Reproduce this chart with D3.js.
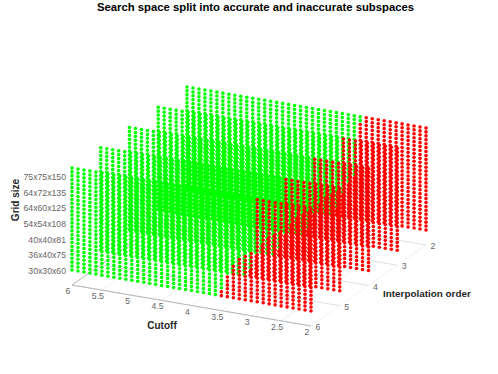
<!DOCTYPE html>
<html>
<head>
<meta charset="utf-8">
<script src="https://cdn.jsdelivr.net/npm/d3@7"></script>
<style>
  html, body { margin: 0; padding: 0; background: #fff; }
  text { font-family: "Liberation Sans", Arial, sans-serif; }
</style>
</head>
<body>
<div id="chart"></div>
<script>
let width = 498;
let height = 374;

let cutoffs = [6, 5.9, 5.8, 5.7, 5.6, 5.5, 5.4, 5.3, 5.2, 5.1,
               5, 4.9, 4.8, 4.7, 4.6, 4.5, 4.4, 4.3, 4.2, 4.1,
               4, 3.9, 3.8, 3.7, 3.6, 3.5, 3.4, 3.3, 3.2, 3.1,
               3, 2.9, 2.8, 2.7, 2.6, 2.5, 2.4, 2.3, 2.2, 2.1, 2];
let orders = [2, 3, 4, 5, 6];
let rows = [0, 1, 2, 3, 4, 5, 6, 7, 8, 9, 10, 11, 12, 13, 14, 15, 16, 17, 18, 19, 20, 21, 22, 23, 24, 25, 26];

let cutoffTicks = [6, 5.5, 5, 4.5, 4, 3.5, 3, 2.5, 2];
let gridTicks = [0, 4, 8, 12, 16, 20, 24];
let gridLabels = ["30x30x60", "36x40x75", "40x40x81", "54x54x108", "64x60x125", "64x72x135", "75x75x150"];

// how many rows, counted from the bottom, are inaccurate (red) in each cutoff column
let redRows2 = [0,0,0,0,0,0,0,0,0,0,0,0,0,0,0,0,0,0,0,0,0,0,0,0,0,2,6,9,11,25,27,27,27,27,27,27,27,27,27,27,27];
let redRows3 = [0,0,0,0,0,0,0,0,0,0,0,0,0,0,0,0,0,0,0,0,0,0,0,0,0,2,6,9,11,12,13,27,27,27,27,27,27,27,27,27,27];
let redRows4 = [0,0,0,0,0,0,0,0,0,0,0,0,0,0,0,0,0,0,0,0,0,0,0,0,0,2,6,9,11,12,13,27,27,27,27,27,27,27,27,27,27];
let redRows5 = [0,0,0,0,0,0,0,0,0,0,0,0,0,0,0,0,0,0,0,0,0,0,0,0,0,2,6,9,11,12,13,27,27,27,27,27,27,27,27,27,27];
let redRows6 = [0,0,0,0,0,0,0,0,0,0,0,0,0,0,0,0,0,0,0,0,0,0,0,0,0,2,6,9,11,12,13,27,27,27,27,27,27,27,27,27,27];
let redRows = {2: redRows2, 3: redRows3, 4: redRows4, 5: redRows5, 6: redRows6};

// orthographic view: each data axis adds its own screen offset
let cutX = d3.scaleLinear().domain([6, 2]).range([72, 311]);
let cutY = d3.scaleLinear().domain([6, 2]).range([0, 41]);
let ordX = d3.scaleLinear().domain([6, 2]).range([0, 115]);
let ordY = d3.scaleLinear().domain([6, 2]).range([0, -81]);
let rowY = d3.scaleLinear().domain([0, 26]).range([270, 168]);
let floorY = 285;

function px(c, o) { return cutX(c) + ordX(o); }
function py(c, o, r) { return (r === null ? floorY : rowY(r)) + cutY(c) + ordY(o); }

let svg = d3.select("#chart")
            .append("svg")
            .attr("width", width)
            .attr("height", height)
            .style("display", "block");

// floor lines
let floor = svg.append("g").attr("fill", "none");

floor.selectAll(".order-grid")
     .data(orders)
     .join("line")
     .attr("x1", o => px(6, o))
     .attr("y1", o => py(6, o, null))
     .attr("x2", o => px(2, o))
     .attr("y2", o => py(2, o, null))
     .attr("stroke", "#d6d6d6")
     .attr("stroke-width", 0.8);

floor.selectAll(".cutoff-grid")
     .data(cutoffTicks)
     .join("line")
     .attr("x1", c => px(c, 6))
     .attr("y1", c => py(c, 6, null))
     .attr("x2", c => px(c, 2))
     .attr("y2", c => py(c, 2, null))
     .attr("stroke", "#ececec")
     .attr("stroke-width", 0.7);

floor.append("line")
     .attr("x1", px(6, 6)).attr("y1", py(6, 6, null))
     .attr("x2", px(2, 6)).attr("y2", py(2, 6, null))
     .attr("stroke", "#b4b4b4")
     .attr("stroke-width", 0.9);

floor.append("line")
     .attr("x1", px(6, 6)).attr("y1", py(6, 6, null))
     .attr("x2", px(6, 2)).attr("y2", py(6, 2, null))
     .attr("stroke", "#b4b4b4")
     .attr("stroke-width", 0.9);

// planes, back to front
orders.forEach(function(o) {
  let pts = [];
  cutoffs.forEach(function(c, i) {
    rows.forEach(function(r) {
      pts.push({c: c, o: o, r: r, red: r < redRows[o][i]});
    });
  });

  svg.append("g")
     .selectAll("circle")
     .data(pts)
     .join("circle")
     .attr("cx", d => px(d.c, d.o))
     .attr("cy", d => py(d.c, d.o, d.r))
     .attr("r", 1.8)
     .attr("fill", d => d.red ? "#ff0000" : "#00ff00");
});

// tick labels
svg.append("g")
   .selectAll("text")
   .data(cutoffTicks)
   .join("text")
   .attr("x", c => px(c, 6) - 4)
   .attr("y", c => py(c, 6, null) + 6)
   .attr("dy", "0.35em")
   .attr("text-anchor", "middle")
   .attr("font-size", 8.7)
   .attr("fill", "#666")
   .text(c => c);

svg.append("g")
   .selectAll("text")
   .data(orders)
   .join("text")
   .attr("x", o => px(2, o) + 7)
   .attr("y", o => py(2, o, null) + 1)
   .attr("dy", "0.35em")
   .attr("text-anchor", "middle")
   .attr("font-size", 8.7)
   .attr("fill", "#666")
   .text(o => o);

svg.append("g")
   .selectAll("text")
   .data(gridTicks)
   .join("text")
   .attr("x", 66)
   .attr("y", r => rowY(r) + 1)
   .attr("dy", "0.35em")
   .attr("text-anchor", "end")
   .attr("font-size", 8.7)
   .attr("fill", "#666")
   .text((r, i) => gridLabels[i]);

// titles
svg.append("text")
   .attr("x", 255.5)
   .attr("y", 7)
   .attr("dy", "0.35em")
   .attr("text-anchor", "middle")
   .attr("font-size", 11.3)
   .attr("font-weight", "bold")
   .attr("fill", "#000")
   .text("Search space split into accurate and inaccurate subspaces");

svg.append("text")
   .attr("x", 162)
   .attr("y", 325)
   .attr("dy", "0.35em")
   .attr("text-anchor", "middle")
   .attr("font-size", 10)
   .attr("font-weight", "bold")
   .attr("fill", "#262626")
   .text("Cutoff");

svg.append("text")
   .attr("x", 383)
   .attr("y", 294)
   .attr("dy", "0.35em")
   .attr("font-size", 9.9)
   .attr("font-weight", "bold")
   .attr("fill", "#262626")
   .text("Interpolation order");

svg.append("text")
   .attr("transform", "translate(15,200) rotate(-90)")
   .attr("dy", "0.35em")
   .attr("text-anchor", "middle")
   .attr("font-size", 10)
   .attr("font-weight", "bold")
   .attr("fill", "#262626")
   .text("Grid size");
</script>
</body>
</html>
